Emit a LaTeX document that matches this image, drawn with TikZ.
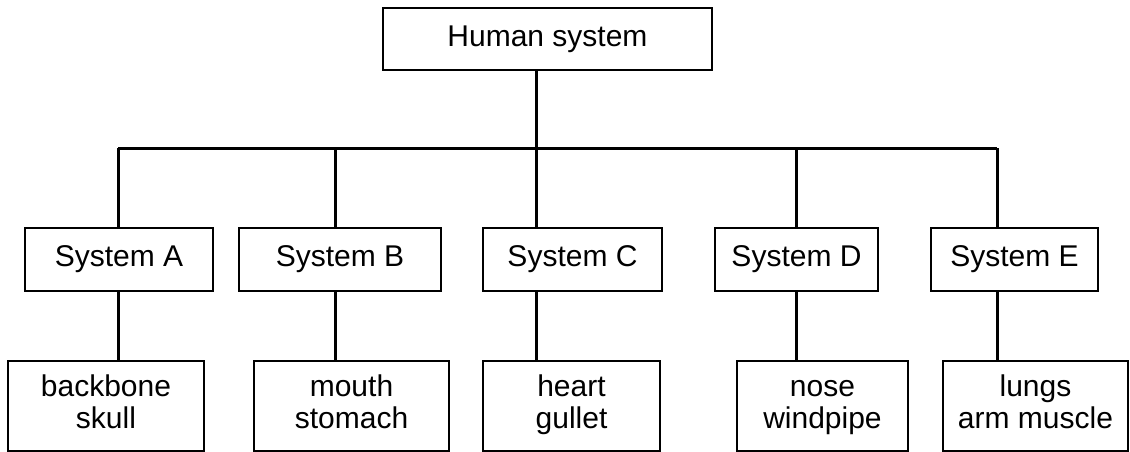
\documentclass[tikz,border=0pt]{standalone}
\usepackage{fontspec}
\setmainfont{Liberation Sans}
\usetikzlibrary{calc}

\begin{document}
\begin{tikzpicture}[
  x=1pt, y=-1pt,
  box/.style={draw, line width=2.8pt, inner sep=0pt, align=center, minimum height=63pt, font=\fontsize{30}{32}\selectfont},
  leaf/.style={draw, line width=2.8pt, inner sep=0pt, align=center, minimum height=90pt, font=\fontsize{30}{32}\selectfont},
  link/.style={line width=3pt}
]
\useasboundingbox (0,0) rectangle (1130,451);

\node[box, minimum width=329pt, minimum height=62pt] (human) at (547.5,39) {Human system};

\node[box, minimum width=188pt] (sysA) at (119,259.5) {System A};
\node[box, minimum width=202pt] (sysB) at (340,259.5) {System B};
\node[box, minimum width=179pt] (sysC) at (572.5,259.5) {System C};
\node[box, minimum width=163pt] (sysD) at (796.5,259.5) {System D};
\node[box, minimum width=167pt] (sysE) at (1014.5,259.5) {System E};

\node[leaf, minimum width=196pt] (orgA) at (106,406) {\strut backbone\\skull\strut};
\node[leaf, minimum width=195pt] (orgB) at (351.5,406) {\strut mouth\\stomach\strut};
\node[leaf, minimum width=177pt] (orgC) at (571.5,406) {\strut heart\\gullet\strut};
\node[leaf, minimum width=171pt] (orgD) at (822.5,406) {\strut nose\\windpipe\strut};
\node[leaf, minimum width=185pt] (orgE) at (1035.5,406) {\strut lungs\\arm muscle\strut};

% bus joints
\coordinate (busA) at (118,148);
\coordinate (busB) at (335,148);
\coordinate (busC) at (536,148);
\coordinate (busD) at (796,148);
\coordinate (busE) at (997,148);

\draw[link] (human.south -| busC) -- (busC);
\draw[link] (busA) -- (busE);

\draw[link] (busA) -- (sysA.north -| busA);
\draw[link] (busB) -- (sysB.north -| busB);
\draw[link] (busC) -- (sysC.north -| busC);
\draw[link] (busD) -- (sysD.north -| busD);
\draw[link] (busE) -- (sysE.north -| busE);

\draw[link] (sysA.south -| busA) -- (orgA.north -| busA);
\draw[link] (sysB.south -| busB) -- (orgB.north -| busB);
\draw[link] (sysC.south -| busC) -- (orgC.north -| busC);
\draw[link] (sysD.south -| busD) -- (orgD.north -| busD);
\draw[link] (sysE.south -| busE) -- (orgE.north -| busE);

\end{tikzpicture}
\end{document}
